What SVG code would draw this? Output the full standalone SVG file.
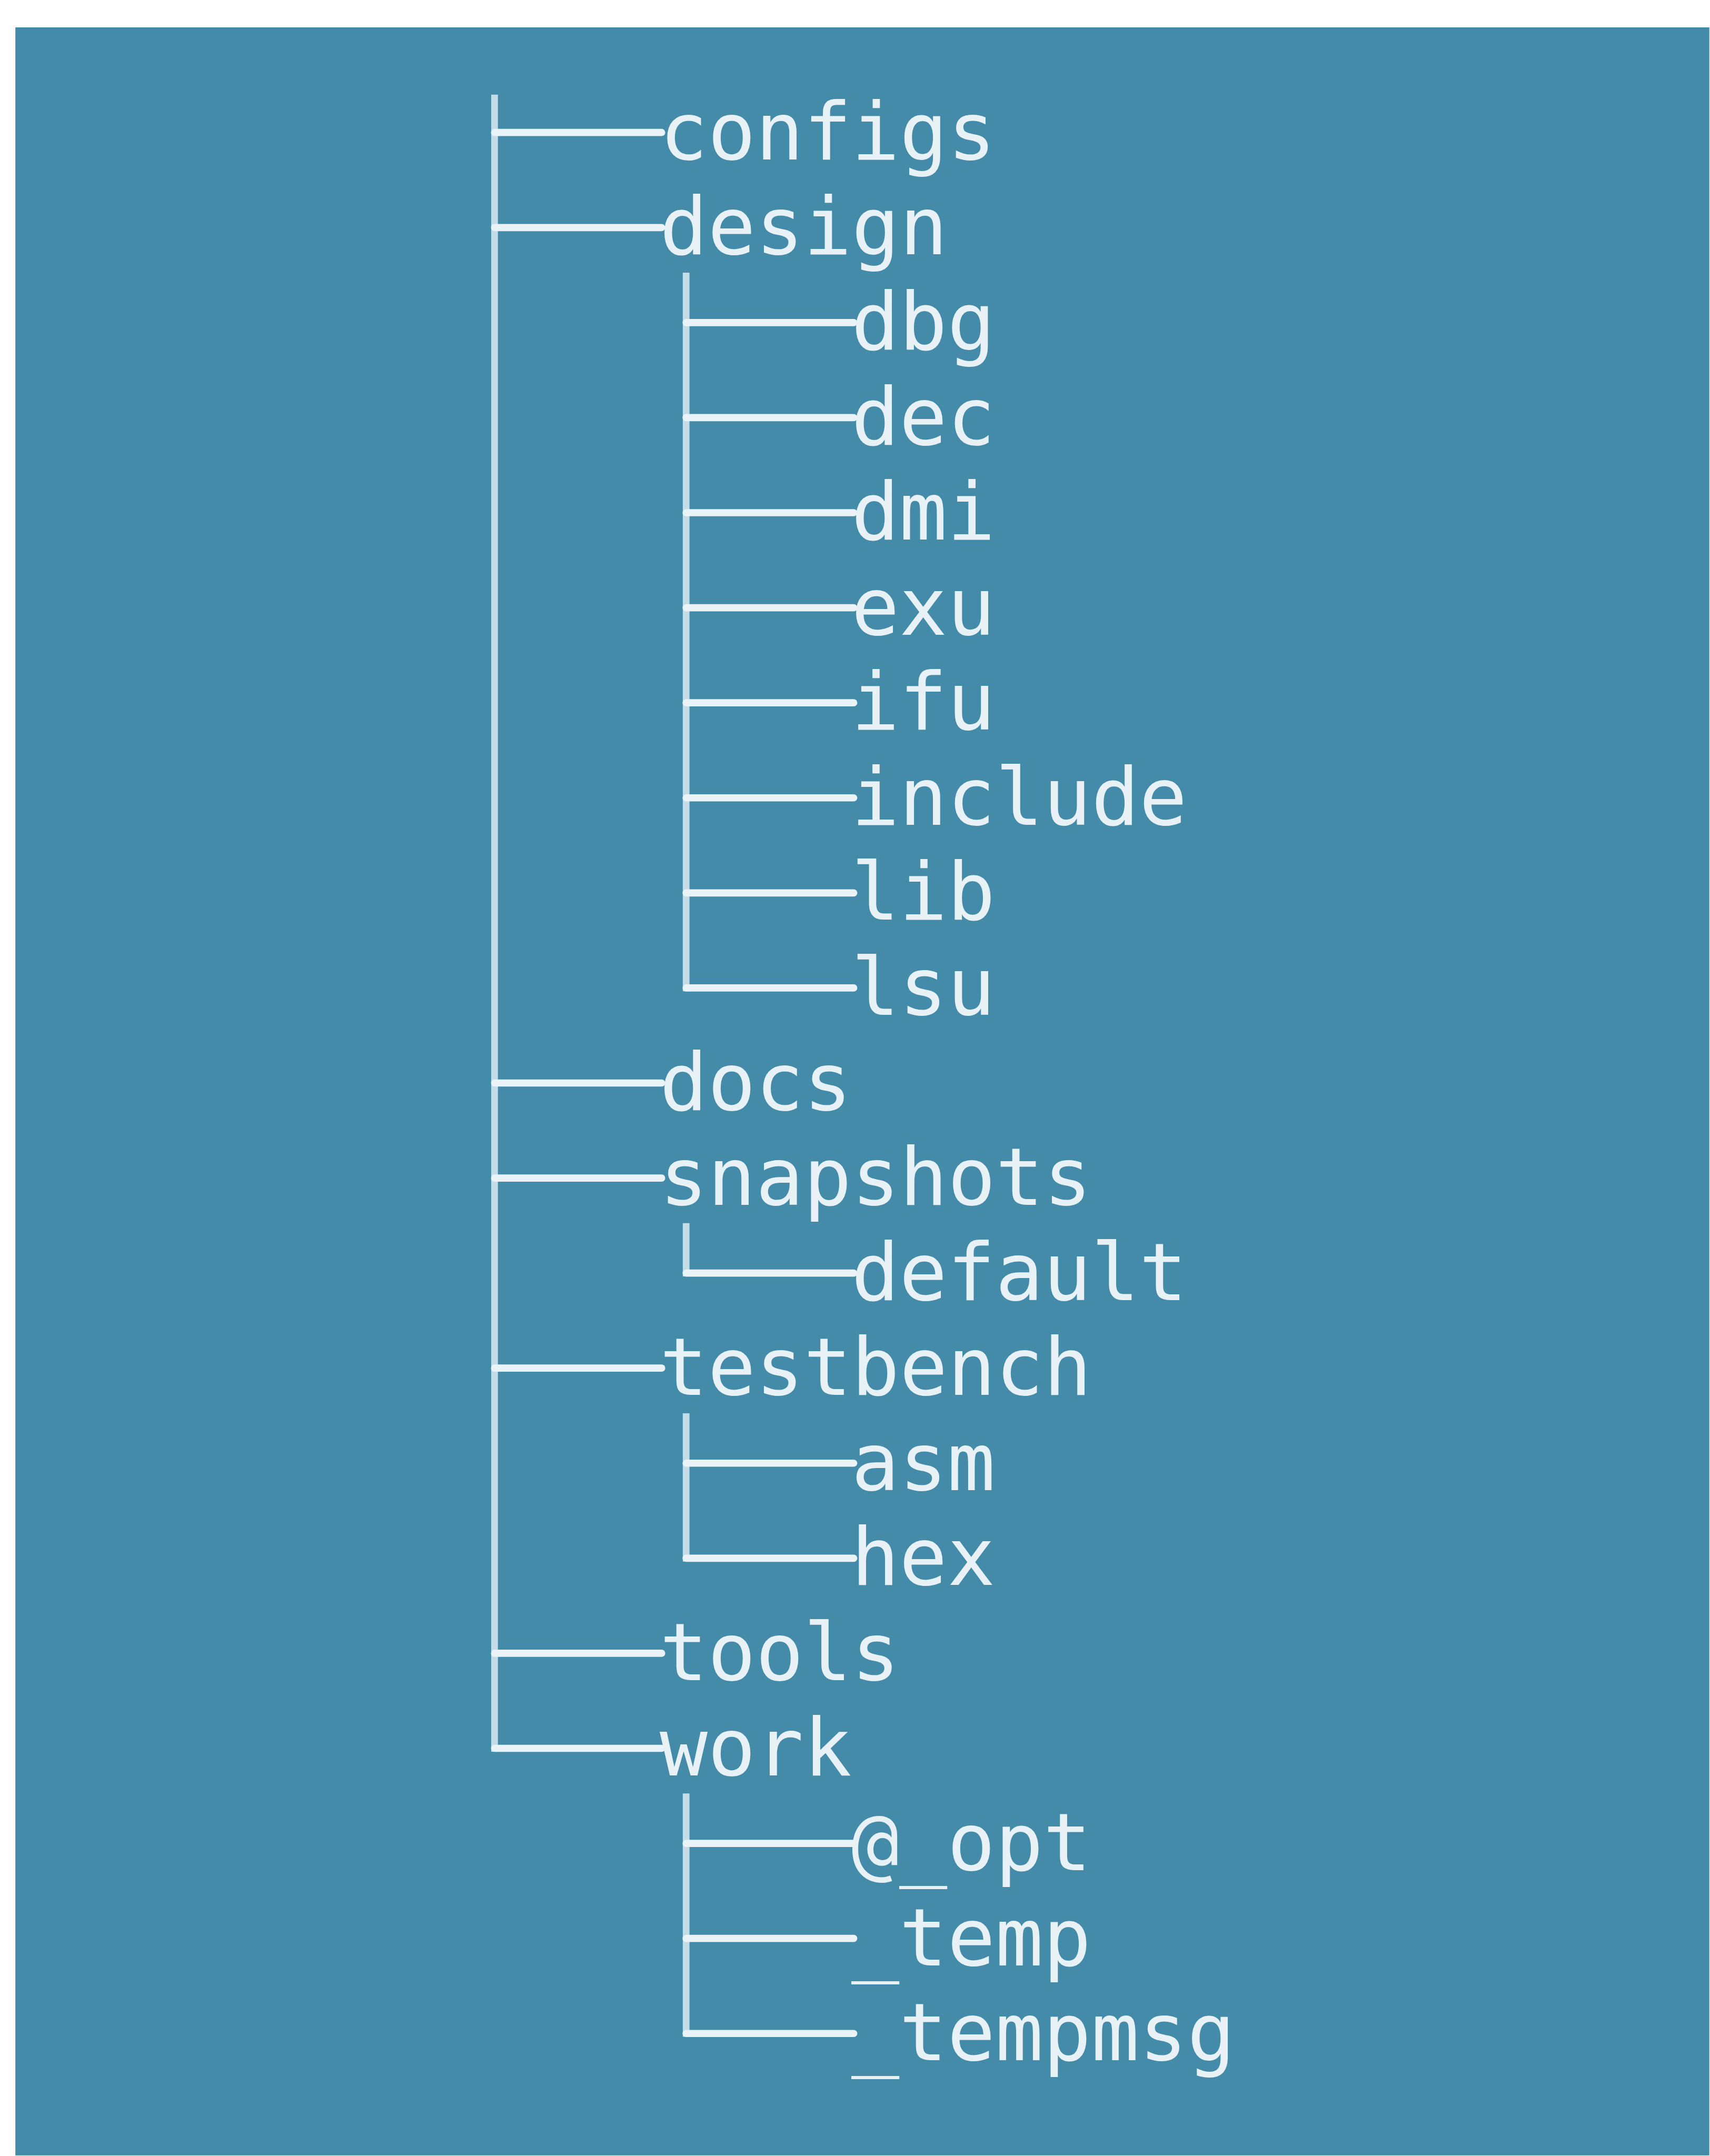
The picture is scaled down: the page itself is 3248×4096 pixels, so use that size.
<svg xmlns="http://www.w3.org/2000/svg" width="3248" height="4096" viewBox="0 0 3248 4096">
  <style>
    .bg { fill: #438ba9; }
    .trunk { stroke: #c3dce7; stroke-width: 14; stroke-linecap: butt; fill: none; }
    .branch { stroke: #eaf4f8; stroke-width: 15; stroke-linecap: round; fill: none; }
    .label { font-family: "DejaVu Sans Mono", "Liberation Mono", monospace; font-size: 166px; fill: #e8f2f6; }
  </style>
  <rect width="3248" height="4096" fill="#ffffff"/>
  <g transform="scale(0.912)">
    <rect class="bg" x="32" y="57" width="3528" height="4433"/>

    <!-- tree connectors: vertical trunks and horizontal branches -->
    <g id="connectors">
      <line class="trunk" x1="1030" y1="197" x2="1030" y2="3649"/>
      <line class="trunk" x1="1429" y1="568" x2="1429" y2="2065"/>
      <line class="trunk" x1="1429" y1="2548" x2="1429" y2="2659"/>
      <line class="trunk" x1="1429" y1="2944" x2="1429" y2="3253"/>
      <line class="trunk" x1="1429" y1="3736" x2="1429" y2="4243"/>

      <line class="branch" x1="1030" y1="276" x2="1378" y2="276"/>
      <line class="branch" x1="1030" y1="474" x2="1378" y2="474"/>
      <line class="branch" x1="1429" y1="672" x2="1778" y2="672"/>
      <line class="branch" x1="1429" y1="870" x2="1778" y2="870"/>
      <line class="branch" x1="1429" y1="1068" x2="1778" y2="1068"/>
      <line class="branch" x1="1429" y1="1266" x2="1778" y2="1266"/>
      <line class="branch" x1="1429" y1="1464" x2="1778" y2="1464"/>
      <line class="branch" x1="1429" y1="1662" x2="1778" y2="1662"/>
      <line class="branch" x1="1429" y1="1860" x2="1778" y2="1860"/>
      <line class="branch" x1="1429" y1="2058" x2="1778" y2="2058"/>
      <line class="branch" x1="1030" y1="2256" x2="1378" y2="2256"/>
      <line class="branch" x1="1030" y1="2454" x2="1378" y2="2454"/>
      <line class="branch" x1="1429" y1="2652" x2="1778" y2="2652"/>
      <line class="branch" x1="1030" y1="2850" x2="1378" y2="2850"/>
      <line class="branch" x1="1429" y1="3048" x2="1778" y2="3048"/>
      <line class="branch" x1="1429" y1="3246" x2="1778" y2="3246"/>
      <line class="branch" x1="1030" y1="3444" x2="1378" y2="3444"/>
      <line class="branch" x1="1030" y1="3642" x2="1378" y2="3642"/>
      <line class="branch" x1="1429" y1="3840" x2="1778" y2="3840"/>
      <line class="branch" x1="1429" y1="4038" x2="1778" y2="4038"/>
      <line class="branch" x1="1429" y1="4236" x2="1778" y2="4236"/>
    </g>

    <!-- directory entries -->
    <g id="configs"><text class="label" x="1374" y="332">configs</text></g>
    <g id="design"><text class="label" x="1374" y="530">design</text></g>
    <g id="dbg"><text class="label" x="1773" y="728">dbg</text></g>
    <g id="dec"><text class="label" x="1773" y="926">dec</text></g>
    <g id="dmi"><text class="label" x="1773" y="1124">dmi</text></g>
    <g id="exu"><text class="label" x="1773" y="1322">exu</text></g>
    <g id="ifu"><text class="label" x="1773" y="1520">ifu</text></g>
    <g id="include"><text class="label" x="1773" y="1718">include</text></g>
    <g id="lib"><text class="label" x="1773" y="1916">lib</text></g>
    <g id="lsu"><text class="label" x="1773" y="2114">lsu</text></g>
    <g id="docs"><text class="label" x="1374" y="2312">docs</text></g>
    <g id="snapshots"><text class="label" x="1374" y="2510">snapshots</text></g>
    <g id="default"><text class="label" x="1773" y="2708">default</text></g>
    <g id="testbench"><text class="label" x="1374" y="2906">testbench</text></g>
    <g id="asm"><text class="label" x="1773" y="3104">asm</text></g>
    <g id="hex"><text class="label" x="1773" y="3302">hex</text></g>
    <g id="tools"><text class="label" x="1374" y="3500">tools</text></g>
    <g id="work"><text class="label" x="1374" y="3698">work</text></g>
    <g id="opt"><text class="label" x="1773" y="3896">@_opt</text></g>
    <g id="temp"><text class="label" x="1773" y="4094">_temp</text></g>
    <g id="tempmsg"><text class="label" x="1773" y="4292">_tempmsg</text></g>
  </g>
</svg>
